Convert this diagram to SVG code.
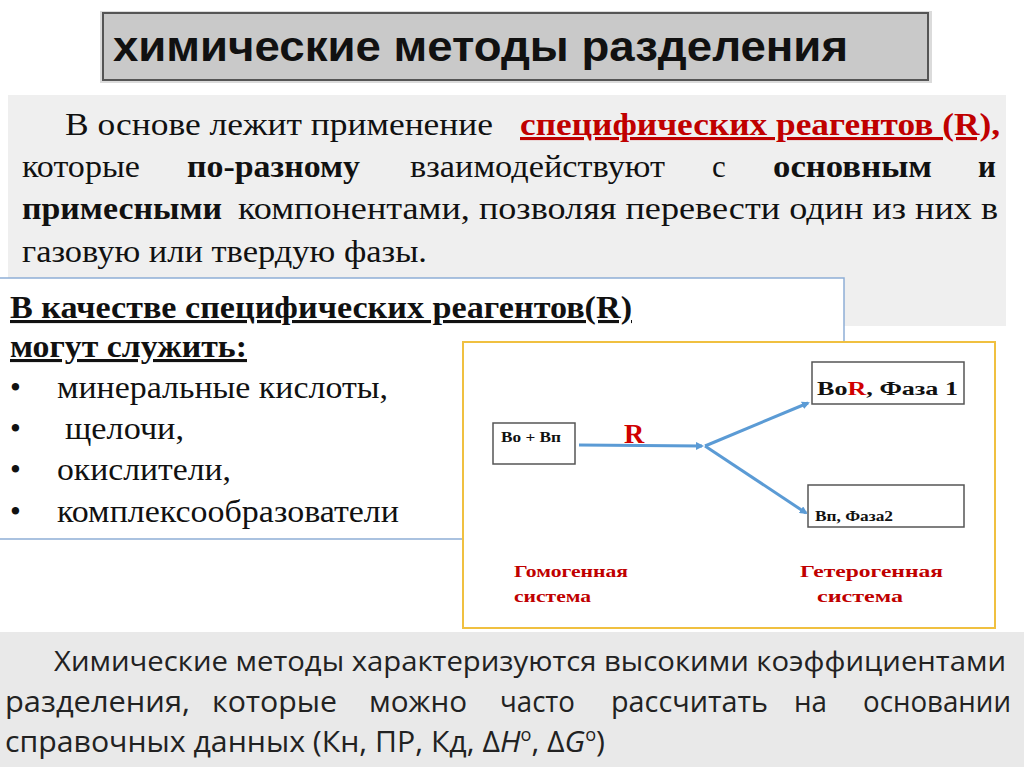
<svg xmlns="http://www.w3.org/2000/svg" width="1024" height="767" viewBox="0 0 1024 767">
<defs>
<style>
.s{font-family:"Liberation Serif",serif;font-size:31px;fill:#111}
.b{font-weight:bold}
.red{fill:#c00000}
.d{font-family:"Liberation Serif",serif;font-weight:bold;fill:#111}
.box{fill:#fff;stroke:#555;stroke-width:1.5}
.con{stroke:#5b9bd5;stroke-width:3;fill:none}
.o{font-family:"Open Sans","Liberation Sans",sans-serif;font-size:30px;fill:#222}
.l{font-family:"Liberation Serif",serif;font-weight:bold;font-size:17px;fill:#c00000}
</style>
<marker id="ah" markerWidth="8" markerHeight="8" refX="6" refY="4" orient="auto" markerUnits="userSpaceOnUse"><path d="M0,0 L8,4 L0,8 z" fill="#5b9bd5"/></marker>
</defs>
<rect width="1024" height="767" fill="#fff"/>
<g id="title">
<rect x="100" y="11" width="832" height="72" fill="#b8b8b8" opacity="0.5"/>
<rect x="103" y="13" width="825" height="67" fill="#c9c9c9" stroke="#555" stroke-width="2"/>
<text x="113" y="61" font-family="Liberation Sans,sans-serif" font-weight="bold" font-size="42" textLength="735" lengthAdjust="spacingAndGlyphs" fill="#111">химические методы разделения</text>
</g>
<g id="intro">
<rect x="8" y="95" width="998" height="231" fill="#efefef"/>
<text class="s" x="65" y="135" textLength="428" lengthAdjust="spacingAndGlyphs">В основе лежит применение</text>
<text class="s b red" x="520" y="135" textLength="480" lengthAdjust="spacingAndGlyphs" text-decoration="underline">специфических реагентов (R),</text>
<text class="s" x="22" y="177" textLength="118" lengthAdjust="spacingAndGlyphs">которые</text>
<text class="s b" x="187" y="177" textLength="173" lengthAdjust="spacingAndGlyphs">по-разному</text>
<text class="s" x="410" y="177" textLength="255" lengthAdjust="spacingAndGlyphs">взаимодействуют</text>
<text class="s" x="712" y="177">с</text>
<text class="s b" x="773" y="177" textLength="159" lengthAdjust="spacingAndGlyphs">основным</text>
<text class="s b" x="978" y="177">и</text>
<text class="s b" x="22" y="219" textLength="200" lengthAdjust="spacingAndGlyphs">примесными</text>
<text class="s" x="238" y="219" textLength="760" lengthAdjust="spacingAndGlyphs">компонентами, позволяя перевести один из них в</text>
<text class="s" x="22" y="262" textLength="405" lengthAdjust="spacingAndGlyphs">газовую или твердую фазы.</text>
</g>
<g id="reagents">
<rect x="-2" y="278" width="846" height="261" fill="#fff" stroke="#8eaed6" stroke-width="1.5"/>
<text class="s b" x="10" y="318" textLength="622" lengthAdjust="spacingAndGlyphs" text-decoration="underline">В качестве специфических реагентов(R)</text>
<text class="s b" x="10" y="357" textLength="237" lengthAdjust="spacingAndGlyphs" text-decoration="underline">могут служить:</text>
<text class="s" x="10" y="398">•</text><text class="s" x="57" y="398" textLength="331" lengthAdjust="spacingAndGlyphs">минеральные кислоты,</text>
<text class="s" x="10" y="439">•</text><text class="s" x="65" y="439" textLength="119" lengthAdjust="spacingAndGlyphs">щелочи,</text>
<text class="s" x="10" y="480">•</text><text class="s" x="57" y="480" textLength="174" lengthAdjust="spacingAndGlyphs">окислители,</text>
<text class="s" x="10" y="522">•</text><text class="s" x="57" y="522" textLength="342" lengthAdjust="spacingAndGlyphs">комплексообразователи</text>
</g>
<g id="scheme">
<rect x="463" y="342" width="532" height="286" fill="#fff" stroke="#f0c040" stroke-width="2"/>
</g>
<g id="n1"><rect class="box" x="493" y="423" width="82" height="41"/><text class="d" x="501" y="442" font-size="15" textLength="60" lengthAdjust="spacingAndGlyphs">Во + Вп</text></g>
<g id="n2"><rect class="box" x="812" y="362" width="152" height="42"/><text class="d" x="817" y="395" font-size="18" textLength="141" lengthAdjust="spacingAndGlyphs">Во<tspan fill="#d00000">R</tspan>,   Фаза 1</text></g>
<g id="n3"><rect class="box" x="808" y="485" width="156" height="42"/><text class="d" x="815" y="521" font-size="15" textLength="78" lengthAdjust="spacingAndGlyphs">Вп, Фаза2</text></g>
<g id="connectors">
<path class="con" d="M579,445 L702,446" marker-end="url(#ah)"/>
<path class="con" d="M705,446 L808,403" marker-end="url(#ah)"/>
<path class="con" d="M705,446 L806,513" marker-end="url(#ah)"/>
</g>
<text class="d" x="624" y="443" font-size="28" style="fill:#d00000">R</text>
<text class="l" x="514" y="577" textLength="114" lengthAdjust="spacingAndGlyphs">Гомогенная</text>
<text class="l" x="514" y="602" textLength="77" lengthAdjust="spacingAndGlyphs">система</text>
<text class="l" x="800" y="577" textLength="143" lengthAdjust="spacingAndGlyphs">Гетерогенная</text>
<text class="l" x="817" y="602" textLength="86" lengthAdjust="spacingAndGlyphs">система</text>
<g id="summary">
<rect x="0" y="632" width="1024" height="135" fill="#e9e9e9"/>
<text class="o" x="54" y="671" font-size="28" style="font-size:28px" textLength="952" lengthAdjust="spacingAndGlyphs">Химические методы характеризуются высокими коэффициентами</text>
<text class="o" x="5" y="712" textLength="185" lengthAdjust="spacingAndGlyphs">разделения,</text>
<text class="o" x="212" y="712" textLength="125" lengthAdjust="spacingAndGlyphs">которые</text>
<text class="o" x="369" y="712" textLength="98" lengthAdjust="spacingAndGlyphs">можно</text>
<text class="o" x="500" y="712" textLength="75" lengthAdjust="spacingAndGlyphs">часто</text>
<text class="o" x="611" y="712" textLength="157" lengthAdjust="spacingAndGlyphs">рассчитать</text>
<text class="o" x="794" y="712" textLength="33" lengthAdjust="spacingAndGlyphs">на</text>
<text class="o" x="863" y="712" textLength="148" lengthAdjust="spacingAndGlyphs">основании</text>
<text class="o" x="5" y="752" textLength="600" lengthAdjust="spacingAndGlyphs">справочных данных (Кн, ПР, Кд, Δ<tspan font-style="italic">H</tspan><tspan dy="-11" font-size="18">o</tspan><tspan dy="11">, Δ</tspan><tspan font-style="italic">G</tspan><tspan dy="-11" font-size="18">o</tspan><tspan dy="11">)</tspan></text>
</g>
</svg>
